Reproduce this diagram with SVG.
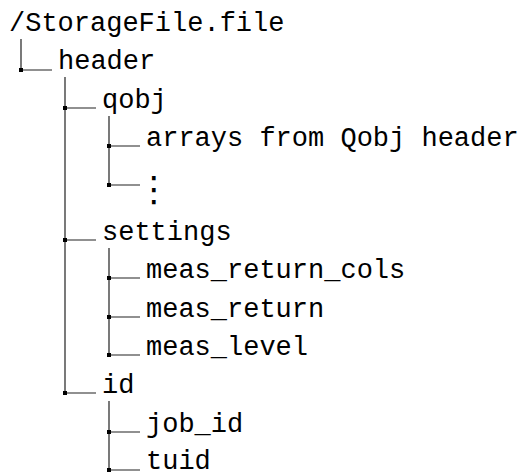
<svg xmlns="http://www.w3.org/2000/svg" width="525" height="472" viewBox="0 0 525 472">
<style>
.t{font-family:"Liberation Mono","DejaVu Sans Mono",monospace;font-size:27px;fill:#000}
.v{font-family:"DejaVu Sans",sans-serif;font-size:35px;fill:#000}
.ln{stroke:#222;stroke-width:1.2;fill:none}
.sq{fill:#000}
</style>
<rect width="525" height="472" fill="#fff"/>
<g id="connectors">
<path class="ln" d="M21,39V70H52"/>
<path class="ln" d="M65,77V393H96M65,108H96M65,240H96"/>
<path class="ln" d="M109,116V185H140M109,146H140"/>
<path class="ln" d="M109,248V355H140M109,278H140M109,317H140"/>
<path class="ln" d="M109,401V470H140M109,432H140"/>
<rect class="sq" x="19" y="68" width="4" height="4"/>
<rect class="sq" x="63" y="106" width="4" height="4"/>
<rect class="sq" x="63" y="238" width="4" height="4"/>
<rect class="sq" x="63" y="391" width="4" height="4"/>
<rect class="sq" x="107" y="144" width="4" height="4"/>
<rect class="sq" x="107" y="183" width="4" height="4"/>
<rect class="sq" x="107" y="276" width="4" height="4"/>
<rect class="sq" x="107" y="315" width="4" height="4"/>
<rect class="sq" x="107" y="353" width="4" height="4"/>
<rect class="sq" x="107" y="430" width="4" height="4"/>
<rect class="sq" x="107" y="468" width="4" height="4"/>
</g>
<g id="root"><text class="t" x="9" y="31">/StorageFile.file</text></g>
<g id="header"><text class="t" x="58" y="69">header</text></g>
<g id="qobj"><text class="t" x="102" y="108">qobj</text></g>
<g id="arrays"><text class="t" x="146" y="146">arrays from Qobj header</text></g>
<g id="vdots"><text class="v" x="154" y="201" text-anchor="middle">⋮</text></g>
<g id="settings"><text class="t" x="102" y="240">settings</text></g>
<g id="meas_return_cols"><text class="t" x="146" y="278">meas_return_cols</text></g>
<g id="meas_return"><text class="t" x="146" y="317">meas_return</text></g>
<g id="meas_level"><text class="t" x="146" y="355">meas_level</text></g>
<g id="id"><text class="t" x="102" y="393">id</text></g>
<g id="job_id"><text class="t" x="146" y="432">job_id</text></g>
<g id="tuid"><text class="t" x="146" y="469">tuid</text></g>
</svg>
